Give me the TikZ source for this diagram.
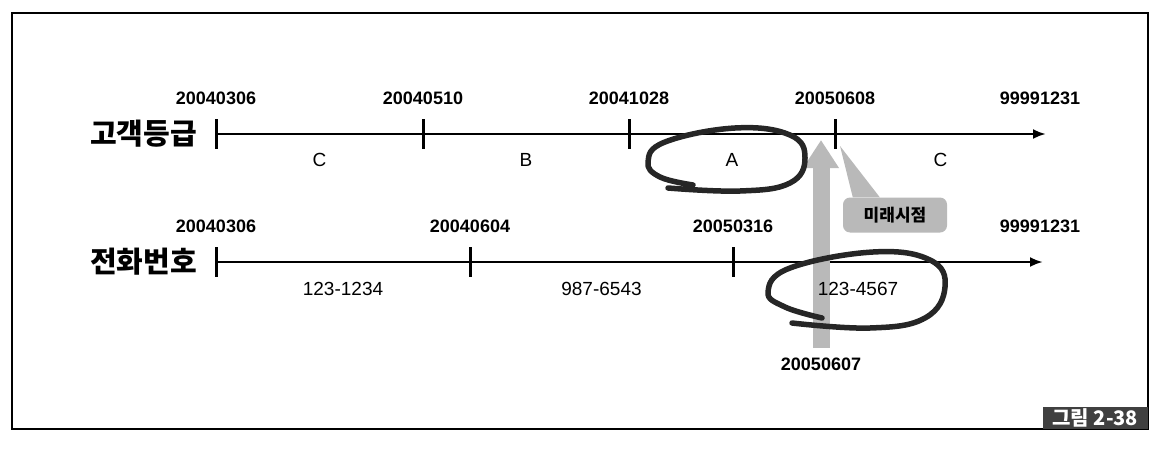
\documentclass[tikz,border=0pt]{standalone}
\usepackage{fontspec}
\setmainfont{Liberation Sans}
\newfontfamily\kfont{Noto Sans CJK KR}
\usetikzlibrary{positioning,calc,arrows.meta}
\tikzset{
  timeline/.style={line width=2.8pt,->},
  tickmark/.style={line width=3pt},
  datelbl/.style={font=\fontsize{18}{20}\selectfont\bfseries,inner sep=0pt},
  seglbl/.style={font=\fontsize{19}{21}\selectfont,inner sep=0pt},
  rowlbl/.style={font=\kfont\fontsize{29}{31}\selectfont\bfseries,inner sep=0pt},
  scribble/.style={line width=5.5pt,line cap=round,line join=round,black!85},
  future/.style={line width=17pt,gray!55,-{Triangle[width=34pt,length=28pt]}},
  calloutbox/.style={fill=gray!55,rounded corners=7pt,minimum width=104pt,
    minimum height=35pt,font=\kfont\fontsize{17}{19}\selectfont\bfseries},
  figtag/.style={fill=black!75,text=white,minimum width=105pt,minimum height=22pt,
    inner sep=1pt,font=\kfont\fontsize{20}{22}\selectfont\bfseries}
}
\begin{document}
\begin{tikzpicture}[x=1pt,y=-1pt,>={Latex[length=13pt,width=10pt]}]
\useasboundingbox (0,0) rectangle (1158,452);
\draw[line width=1.6pt] (12,13) rectangle (1148,429);

% customer grade
\coordinate (g0) at (216,134);
\coordinate (g1) at (423,134);
\coordinate (g2) at (629,134);
\coordinate (g3) at (835,134);
\coordinate (gend) at (1046,134);
\draw[timeline] (g0) -- (gend);
\foreach \t in {g0,g1,g2,g3}
  \draw[tickmark] ([yshift=15pt]\t) -- ([yshift=-15pt]\t);
\foreach \c/\d in {g0/20040306,g1/20040510,g2/20041028,g3/20050608}
  \node[datelbl,above=29pt of \c] (d\c) {\d};
\node[datelbl,above=29pt of gend,xshift=-6pt] (dgend) {99991231};
\node[rowlbl,left=19pt of g0] (grade) {고객등급};
\node[seglbl,below=19pt] (sg1) at ($(g0)!0.5!(g1)$) {C};
\node[seglbl,below=19pt] (sg2) at ($(g1)!0.5!(g2)$) {B};
\node[seglbl,below=19pt] (sg3) at ($(g2)!0.5!(g3)$) {A};
\node[seglbl,below=19pt] (sg4) at ($(g3)!0.5!(gend)$) {C};

% phone number
\coordinate (p0) at (216,262);
\coordinate (p1) at (470,262);
\coordinate (p2) at (733,262);
\coordinate (pend) at (1043,262);
\draw[timeline] (p0) -- (pend);
\foreach \t in {p0,p1,p2}
  \draw[tickmark] ([yshift=15pt]\t) -- ([yshift=-15pt]\t);
\foreach \c/\d in {p0/20040306,p1/20040604,p2/20050316}
  \node[datelbl,above=29pt of \c] (d\c) {\d};
\node[datelbl,above=29pt of pend,xshift=-3pt] (dpend) {99991231};
\node[rowlbl,left=19pt of p0] (phone) {전화번호};
\node[seglbl,below=20pt] (sp1) at ($(p0)!0.5!(p1)$) {123-1234};
\node[seglbl,below=20pt] (sp2) at ($(p1)!0.5!(p2)$) {987-6543};

% future point
\coordinate (fbase) at (821,348);
\coordinate (ftip) at (821,140);
\draw[future] (fbase) -- (ftip);
\node[datelbl,below=10pt of fbase] (dfut) {20050607};
\node[seglbl,below=20pt] (sp3) at (858,262) {123-4567};

\node[calloutbox] (mirae) at (895,215) {미래시점};
\coordinate (ptr) at (840,146);
\fill[gray!55] ([xshift=10pt]mirae.north west) -- (ptr) -- ([xshift=37pt]mirae.north west) -- cycle;

\draw[scribble] plot[smooth,tension=0.7] coordinates {(693,185) (660,177) (648,162) (665,142)
  (735,128) (790,135) (805,158) (790,183) (740,191) (668,188)};
\draw[scribble] plot[smooth,tension=0.7] coordinates {(822,318) (785,307) (768,292) (790,268)
  (873,252) (930,260) (945,287) (925,318) (870,328) (792,323)};

\node[figtag,anchor=south east] (tag) at (1148,429) {그림 2-38};
\end{tikzpicture}
\end{document}
